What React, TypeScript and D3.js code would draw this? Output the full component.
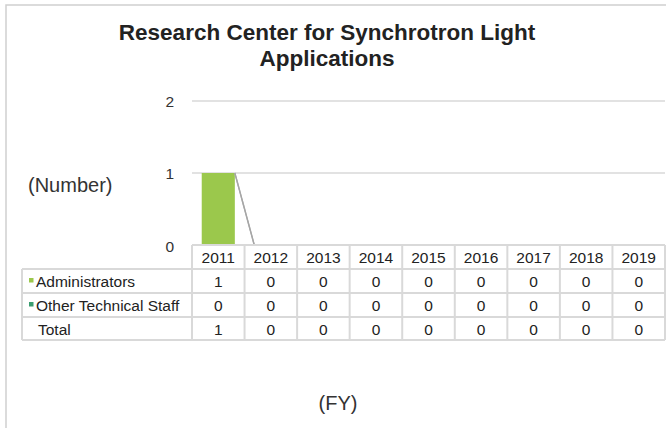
import React, { useRef, useEffect } from "react";
import * as d3 from "d3";

const years = ["2011", "2012", "2013", "2014", "2015", "2016", "2017", "2018", "2019"];
const administrators = [1, 0, 0, 0, 0, 0, 0, 0, 0];
const otherTechnicalStaff = [0, 0, 0, 0, 0, 0, 0, 0, 0];
const totals = [1, 0, 0, 0, 0, 0, 0, 0, 0];
const yTicks = [0, 1, 2];

const seriesNames = ["Administrators", "Other Technical Staff"];
const seriesColors = ["#9bc84c", "#3a9d70"];

const Chart = () => {
  const svgRef = useRef(null);

  useEffect(() => {
    const width = 666;
    const height = 428;
    const svg = d3.select(svgRef.current);
    svg.selectAll("*").remove();
    svg.attr("width", width).attr("height", height);

    const font = "'Liberation Sans', Arial, sans-serif";
    const gridColor = "#d9d9d9";
    const fs = 15.5;

    // chart border
    svg.append("path")
      .attr("d", `M6,${height} V5 H${width}`)
      .attr("fill", "none")
      .attr("stroke", "#d0d0d0")
      .attr("stroke-width", 1.5);

    // title
    const title = svg.append("text")
      .attr("text-anchor", "middle")
      .attr("font-family", font)
      .attr("font-weight", "bold")
      .attr("font-size", 22.5)
      .attr("fill", "#222");
    title.append("tspan").attr("x", 327).attr("y", 40).text("Research Center for Synchrotron Light");
    title.append("tspan").attr("x", 327).attr("y", 66).text("Applications");

    const margin = { left: 192, right: 1, top: 101, bottom: 245 };

    const x = d3.scaleBand().domain(years).range([margin.left, width - margin.right]).paddingInner(0).paddingOuter(0);
    const y = d3.scaleLinear().domain([0, 2]).range([margin.bottom, margin.top]);

    // gridlines
    svg.append("g")
      .selectAll("line")
      .data(yTicks.filter(t => t > 0))
      .enter()
      .append("line")
      .attr("x1", margin.left)
      .attr("x2", width - margin.right)
      .attr("y1", d => y(d))
      .attr("y2", d => y(d))
      .attr("stroke", gridColor)
      .attr("stroke-width", 1.5);

    // y tick labels
    svg.append("g")
      .selectAll("text")
      .data(yTicks)
      .enter()
      .append("text")
      .attr("x", 174)
      .attr("y", d => y(d) + (d === 0 ? 7 : 5.5))
      .attr("text-anchor", "end")
      .attr("font-family", font)
      .attr("font-size", fs)
      .attr("fill", "#333")
      .text(d => d);

    svg.append("text")
      .attr("x", 28)
      .attr("y", 192)
      .attr("font-family", font)
      .attr("font-size", 20)
      .attr("fill", "#333")
      .text("(Number)");

    // stacked bars
    const rows = years.map((yr, i) => ({ year: yr, a: administrators[i], o: otherTechnicalStaff[i] }));
    const stack = d3.stack().keys(["a", "o"])(rows);
    const barW = x.bandwidth() * 0.63;
    const barOff = (x.bandwidth() - barW) / 2;

    stack.forEach((layer, li) => {
      svg.append("g")
        .selectAll("rect")
        .data(layer)
        .enter()
        .append("rect")
        .attr("x", (d, i) => x(years[i]) + barOff)
        .attr("width", barW)
        .attr("y", d => y(d[1]))
        .attr("height", d => y(d[0]) - y(d[1]))
        .attr("fill", seriesColors[li]);
    });

    // series lines
    stack.forEach(layer => {
      const segs = [];
      for (let i = 0; i < layer.length - 1; i++) {
        segs.push([
          [x(years[i]) + barOff + barW, y(layer[i][1])],
          [x(years[i + 1]) + barOff, y(layer[i + 1][1])],
        ]);
      }
      svg.append("g")
        .selectAll("path")
        .data(segs)
        .enter()
        .append("path")
        .attr("d", d => d3.line()(d))
        .attr("stroke", "#a6a6a6")
        .attr("stroke-width", 1.3)
        .attr("fill", "none");
    });

    // data table
    const rowH = 24;
    const headTop = 245;
    const tableLeft = 22;
    const tableRows = [
      { name: seriesNames[0], values: administrators, color: seriesColors[0] },
      { name: seriesNames[1], values: otherTechnicalStaff, color: seriesColors[1] },
      { name: "Total", values: totals, color: null },
    ];
    const tbl = svg.append("g")
      .attr("font-family", font)
      .attr("font-size", fs)
      .attr("fill", "#222");

    const gridStroke = (sel) => sel.attr("stroke", gridColor).attr("stroke-width", 2);

    // header row
    years.forEach(yr => {
      tbl.append("text")
        .attr("x", x(yr) + x.bandwidth() / 2)
        .attr("y", headTop + 18)
        .attr("text-anchor", "middle")
        .text(yr);
    });
    tbl.append("line").attr("x1", margin.left).attr("x2", width - margin.right).attr("y1", headTop).attr("y2", headTop).call(gridStroke);

    const tableBottom = headTop + rowH * (tableRows.length + 1) - 1;
    // horizontal lines
    for (let r = 1; r <= tableRows.length + 1; r++) {
      const yy = headTop + rowH * r - (r === tableRows.length + 1 ? 1 : 0);
      tbl.append("line").attr("x1", tableLeft).attr("x2", width - margin.right).attr("y1", yy).attr("y2", yy).call(gridStroke);
    }
    // vertical lines
    tbl.append("line").attr("x1", tableLeft).attr("x2", tableLeft).attr("y1", headTop + rowH).attr("y2", tableBottom).call(gridStroke);
    years.forEach(yr => {
      tbl.append("line").attr("x1", x(yr)).attr("x2", x(yr)).attr("y1", headTop).attr("y2", tableBottom).call(gridStroke);
    });
    tbl.append("line").attr("x1", width - margin.right).attr("x2", width - margin.right).attr("y1", headTop).attr("y2", tableBottom).call(gridStroke);

    tableRows.forEach((row, r) => {
      const top = headTop + rowH * (r + 1);
      if (row.color) {
        tbl.append("rect").attr("x", 29).attr("y", top + 9).attr("width", 4.5).attr("height", 4.5).attr("fill", row.color);
      }
      tbl.append("text").attr("x", row.color ? 36 : 38).attr("y", top + 17.5).text(row.name);
      row.values.forEach((v, i) => {
        tbl.append("text")
          .attr("x", x(years[i]) + x.bandwidth() / 2)
          .attr("y", top + 17.5)
          .attr("text-anchor", "middle")
          .text(v);
      });
    });

    svg.append("text")
      .attr("x", 338)
      .attr("y", 410)
      .attr("text-anchor", "middle")
      .attr("font-family", font)
      .attr("font-size", 20)
      .attr("fill", "#333")
      .text("(FY)");
  }, []);

  return (
    <div style={{ position: "absolute", left: 0, top: 0 }}>
      <svg ref={svgRef} style={{ display: "block", background: "#fff" }} />
    </div>
  );
};

const App = () => <Chart />;

export default App;
